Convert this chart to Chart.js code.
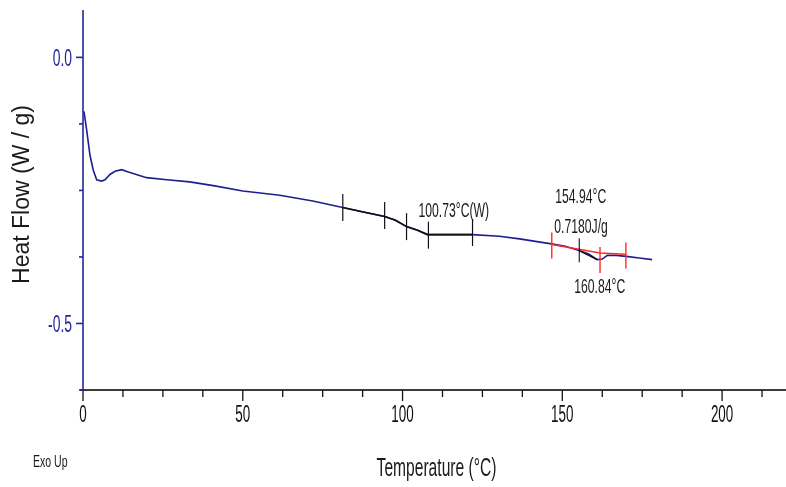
<!DOCTYPE html>
<html>
<head>
<meta charset="utf-8">
<script src="https://cdn.jsdelivr.net/npm/chart.js@4/dist/chart.umd.min.js"></script>
<style>
html,body{margin:0;padding:0;background:#ffffff;}
#wrap{width:786px;height:487px;position:relative;}
canvas{display:block;}
</style>
</head>
<body>
<div id="wrap"><canvas id="c" width="786" height="487"></canvas></div>
<script>
// ---------- data ----------
const temperature = [0.3, 1.16, 2.19, 3.22, 4.28, 5.84, 6.88, 8.44, 10.0, 12.1, 14.2, 19.9, 26.2, 33.4, 41.25, 50.0, 61.6, 71.9, 81.25, 88.1, 94.4, 97.8, 101.25, 104.7, 107.8, 121.9, 130.3, 136.6, 146.6, 150.9, 155.3, 158.4, 160.9, 162.5, 164.1, 166.9, 170.0, 174.1, 178.1];
const heatFlow    = [-0.1015, -0.137, -0.184, -0.212, -0.230, -0.2325, -0.230, -0.220, -0.214, -0.211, -0.2156, -0.226, -0.230, -0.234, -0.2415, -0.251, -0.259, -0.270, -0.282, -0.291, -0.299, -0.306, -0.318, -0.325, -0.333, -0.333, -0.336, -0.341, -0.3505, -0.355, -0.363, -0.370, -0.380, -0.379, -0.372, -0.372, -0.374, -0.377, -0.380];

// glass transition analysis (black)
const glassTangentT = [81.25, 88.1, 94.4, 97.8, 101.25, 104.7, 107.8, 121.9];
const glassTangentV = [-0.282, -0.291, -0.299, -0.306, -0.318, -0.325, -0.333, -0.333];
const glassMarkT    = [81.3, 94.4, 101.25, 108.1, 121.9];
const glassMarkV    = [-0.282, -0.297, -0.318, -0.334, -0.329];

// melting peak analysis (red baseline, black tangent)
const meltBaseT    = [146.7, 161.8, 169.9];
const meltBaseV    = [-0.3515, -0.3675, -0.370];
const meltTangentT = [155.3, 160.9];
const meltTangentV = [-0.363, -0.380];
const meltMarkT    = [146.7, 161.8, 169.9];
const meltMarkV    = [-0.3534, -0.3806, -0.3722];
const onsetMarkT   = [155.3];
const onsetMarkV   = [-0.3626];

// annotation labels: text, anchor temperature, anchor heat flow (baseline)
const noteTexts = ['100.73°C(W)', '154.94°C', '0.7180J/g', '160.84°C'];
const noteT     = [105.0, 147.8, 147.5, 153.75];
const noteV     = [-0.300, -0.2744, -0.330, -0.4436];

// axis ticks / labels
const xLabelValues = [0, 50, 100, 150, 200];
const xTickLabels  = ['0', '50', '100', '150', '200'];
const yLabelValues = [0, -0.5];
const yTickLabels  = ['0.0', '-0.5'];

const xTitle = 'Temperature (°C)';
const yTitle = 'Heat Flow (W / g)';
const cornerNote = 'Exo Up';

// ---------- styling ----------
const NAVY = '#26269a';
const CURVE = '#1e1e8e';
const RED = '#ff2a2a';
const FONT = "'Liberation Sans', Arial, sans-serif";

function pts(xs, ys){ return xs.map((v,i)=>({x:v, y:ys[i]})); }

function squeezeText(ctx, text, x, y, size, sx, align, color){
  ctx.save();
  ctx.translate(x, y);
  ctx.scale(sx, 1);
  ctx.font = size + 'px ' + FONT;
  ctx.textAlign = align;
  ctx.textBaseline = 'alphabetic';
  ctx.fillStyle = color;
  ctx.fillText(text, 0, 0);
  ctx.restore();
}

const dscPlugin = {
  id: 'dscDecor',
  beforeDraw(chart){
    const ctx = chart.ctx;
    ctx.save();
    ctx.fillStyle = '#ffffff';
    ctx.fillRect(0, 0, chart.width, chart.height);
    ctx.restore();
  },
  afterDraw(chart){
    const {ctx, chartArea: ca} = chart;
    const xs = chart.scales.x, ys = chart.scales.y;
    ctx.save();
    // x axis line + ticks
    ctx.strokeStyle = '#3c3c3c';
    ctx.lineWidth = 2;
    ctx.beginPath(); ctx.moveTo(ca.left - 3, ca.bottom); ctx.lineTo(ca.right, ca.bottom); ctx.stroke();
    ctx.strokeStyle = '#111111';
    ctx.lineWidth = 1.3;
    xs.ticks.forEach(t => {
      const px = xs.getPixelForValue(t.value);
      const major = xLabelValues.some(v => Math.abs(v - t.value) < 1e-9);
      const len = major ? 11 : 7;
      ctx.beginPath(); ctx.moveTo(px, ca.bottom); ctx.lineTo(px, ca.bottom + len); ctx.stroke();
    });
    xLabelValues.forEach((v, i) => {
      squeezeText(ctx, xTickLabels[i], xs.getPixelForValue(v), ca.bottom + 32, 24, 0.56, 'center', '#111111');
    });
    // y axis line + ticks
    ctx.strokeStyle = NAVY;
    ctx.lineWidth = 1.6;
    ctx.beginPath(); ctx.moveTo(ca.left, ca.top); ctx.lineTo(ca.left, ca.bottom); ctx.stroke();
    ys.ticks.forEach(t => {
      const py = ys.getPixelForValue(t.value);
      const major = yLabelValues.some(v => Math.abs(v - t.value) < 1e-9);
      const len = major ? 7 : 4;
      ctx.beginPath(); ctx.moveTo(ca.left - len, py); ctx.lineTo(ca.left, py); ctx.stroke();
    });
    yLabelValues.forEach((v, i) => {
      squeezeText(ctx, yTickLabels[i], ca.left - 11, ys.getPixelForValue(v) + 8.6, 24, 0.58, 'right', NAVY);
    });
    // axis titles
    squeezeText(ctx, xTitle, (ca.left + ca.right) / 2 + 2, 476, 26, 0.6, 'center', '#1a1a1a');
    ctx.save();
    ctx.translate(28.5, 194.5);
    ctx.rotate(-Math.PI / 2);
    ctx.font = '23px ' + FONT;
    ctx.textAlign = 'center';
    ctx.textBaseline = 'alphabetic';
    ctx.fillStyle = '#1a1a1a';
    ctx.fillText(yTitle, 0, 0);
    ctx.restore();
    squeezeText(ctx, cornerNote, 33, 467, 17, 0.62, 'left', '#1a1a1a');
    // annotations
    noteTexts.forEach((txt, i) => {
      squeezeText(ctx, txt, xs.getPixelForValue(noteT[i]), ys.getPixelForValue(noteV[i]), 21, 0.58, 'left', '#1a1a1a');
    });
    ctx.restore();
  }
};

const tickMark = (color, r, w) => ({
  showLine: false,
  pointStyle: 'line',
  pointRotation: 90,
  pointRadius: r,
  pointBorderColor: color,
  pointBackgroundColor: color,
  pointBorderWidth: w,
  borderColor: color
});

new Chart(document.getElementById('c'), {
  type: 'scatter',
  data: {
    datasets: [
      Object.assign({ data: pts(glassMarkT, glassMarkV), order: 1 }, tickMark('#111111', 13.5, 1.2)),
      Object.assign({ data: pts(meltMarkT, meltMarkV), order: 1 }, tickMark(RED, 13, 1.4)),
      Object.assign({ data: pts(onsetMarkT, onsetMarkV), order: 1 }, tickMark('#111111', 12, 1.1)),
      { data: pts(meltBaseT, meltBaseV), showLine: true, borderColor: RED, borderWidth: 1.5, pointRadius: 0, order: 2 },
      { data: pts(meltTangentT, meltTangentV), showLine: true, borderColor: '#111111', borderWidth: 1.5, pointRadius: 0, order: 3 },
      { data: pts(glassTangentT, glassTangentV), showLine: true, borderColor: '#111111', borderWidth: 1.6, pointRadius: 0, order: 4 },
      { data: pts(temperature, heatFlow), showLine: true, borderColor: CURVE, borderWidth: 1.6, pointRadius: 0, tension: 0, order: 5 }
    ]
  },
  options: {
    responsive: false,
    animation: false,
    devicePixelRatio: 1,
    events: [],
    layout: { autoPadding: false, padding: { top: 10, right: 0, bottom: 0, left: 0 } },
    plugins: { legend: { display: false }, tooltip: { enabled: false }, title: { display: false } },
    scales: {
      x: {
        type: 'linear', min: 0, max: 220,
        grid: { display: false }, border: { display: false },
        ticks: { display: false },
        afterBuildTicks: s => { const t = []; for (let v = 0; v <= 212.5; v += 12.5) t.push({ value: v }); s.ticks = t; },
        afterFit: s => { s.height = 97; }
      },
      y: {
        type: 'linear', min: -0.625, max: 0.089,
        grid: { display: false }, border: { display: false },
        ticks: { display: false },
        afterBuildTicks: s => { const t = []; for (let k = 0; k <= 5; k++) t.push({ value: -0.125 * k }); s.ticks = t; },
        afterFit: s => { s.width = 83; }
      }
    }
  },
  plugins: [dscPlugin]
});
</script>
</body>
</html>
